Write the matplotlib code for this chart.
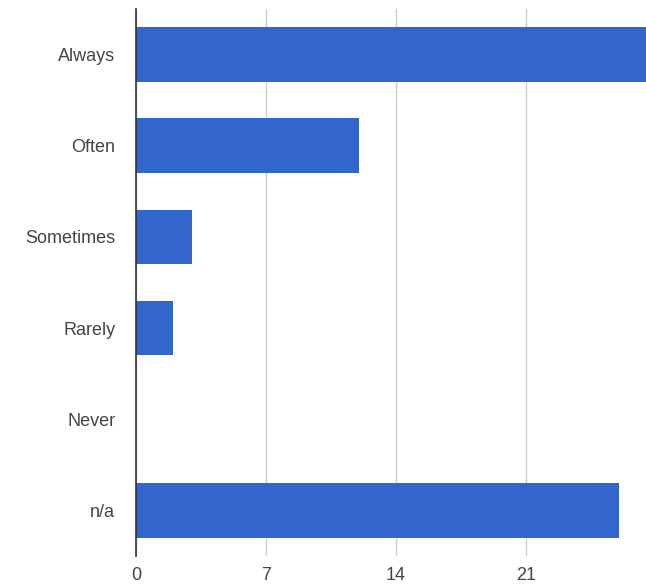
import matplotlib
matplotlib.use("Agg")
import matplotlib.pyplot as plt

categories = ["Always", "Often", "Sometimes", "Rarely", "Never", "n/a"]
values = [28, 12, 3, 2, 0, 26]
xticks = [0, 7, 14, 21, 28]

plt.rcParams['font.family'] = ['Liberation Sans', 'DejaVu Sans']

W, H = 646, 588
fig = plt.figure(figsize=(W / 100, H / 100), dpi=100)
left = 136 / W
width = 520 / W
bottom = (H - 556) / H
top = (H - 9) / H
ax = fig.add_axes([left, bottom, width, top - bottom])

y = list(range(len(categories)))
ax.barh(y, values, height=0.6, color="#3366cc", zorder=3)
ax.set_ylim(len(categories) - 0.5, -0.5)
ax.set_xlim(0, 28)
ax.set_xticks(xticks)
ax.set_xticklabels([str(t) for t in xticks])
ax.set_yticks(y)
ax.set_yticklabels(categories)

ax.grid(axis="x", color="#cccccc", linewidth=1, zorder=0)
for s in ["top", "right", "bottom"]:
    ax.spines[s].set_visible(False)
ax.spines["left"].set_color("#333333")
ax.spines["left"].set_linewidth(1.2)
ax.spines["left"].set_zorder(4)
ax.tick_params(axis="both", length=0, labelsize=13, colors="#444444")
ax.tick_params(axis="y", pad=20)
ax.tick_params(axis="x", pad=8)
for lbl in ax.get_yticklabels():
    lbl.set_x(-0.0)
fig.canvas.draw()
ax.tick_params(axis="y", pad=20 - 7 * 72 / 100)

fig.savefig("out.png", dpi=100)
